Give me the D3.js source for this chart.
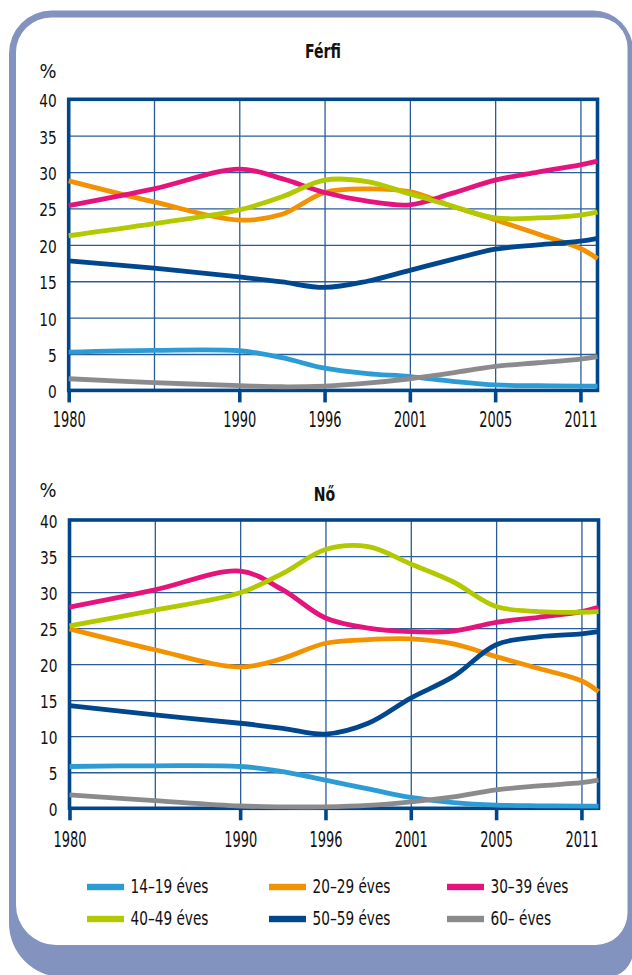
<!DOCTYPE html>
<html>
<head>
<meta charset="utf-8">
<script src="https://cdn.jsdelivr.net/npm/d3@7"></script>
<style>
  html, body { margin: 0; padding: 0; background: #fff; }
  svg { display: block; }
  .lbl { font-family: "DejaVu Sans Condensed", "DejaVu Sans", sans-serif; fill: #111; }
</style>
</head>
<body>
<div id="chart"></div>
<script>
// ---------- DATA ----------
const seriesNames = ["14–19 éves", "20–29 éves", "30–39 éves", "40–49 éves", "50–59 éves", "60– éves"];
const seriesColors = ["#2e9cd4", "#f39200", "#e4147c", "#b2c900", "#00478d", "#8b8b8d"];

// category positions on the x axis (0 = 1980 gridline, 1 = unlabeled gridline, 2 = 1990, ... 6 = 2011, 6.2 = right edge)
const gridPos = [0, 1, 2, 3, 4, 5, 6];
const xTickPos = [0, 2, 3, 4, 5, 6];
const xTickLabels = ["1980", "1990", "1996", "2001", "2005", "2011"];
const yTicks = [0, 5, 10, 15, 20, 25, 30, 35, 40];
const xEnd = 6.2;

// sample positions where values were read
const samplePos = [0, 1, 2, 2.5, 3, 3.5, 4, 4.5, 5, 5.5, 6, 6.2];

// Férfi (men), %
const men1419 = [5.25, 5.5, 5.45, 4.5, 3.05, 2.3, 1.9, 1.25, 0.75, 0.65, 0.6, 0.6];
const men2029 = [28.8, 25.9, 23.4, 24.2, 27.2, 27.7, 27.3, 25.3, 23.45, 21.5, 19.5, 18.1];
const men3039 = [25.4, 27.7, 30.4, 29.1, 27.2, 26.0, 25.5, 27.1, 28.9, 30.0, 31.0, 31.5];
const men4049 = [21.25, 22.9, 24.8, 26.6, 28.9, 28.7, 27.0, 25.3, 23.7, 23.7, 24.1, 24.5];
const men5059 = [17.8, 16.8, 15.6, 14.9, 14.15, 15.0, 16.5, 18.0, 19.4, 20.0, 20.5, 20.9];
const men60 = [1.6, 1.07, 0.66, 0.5, 0.6, 1.0, 1.6, 2.4, 3.3, 3.8, 4.3, 4.65];

// Nő (women), %
const women1419 = [5.8, 5.9, 5.8, 5.1, 3.9, 2.7, 1.5, 0.8, 0.45, 0.35, 0.3, 0.3];
const women2029 = [24.9, 22.0, 19.6, 20.8, 22.9, 23.4, 23.5, 22.8, 21.05, 19.4, 17.7, 16.2];
const women3039 = [27.9, 30.3, 32.9, 30.3, 26.4, 25.0, 24.5, 24.6, 25.8, 26.5, 27.3, 27.9];
const women4049 = [25.3, 27.5, 29.9, 32.6, 35.9, 36.3, 33.9, 31.4, 28.0, 27.3, 27.2, 27.3];
const women5059 = [14.25, 12.95, 11.8, 11.1, 10.3, 11.8, 15.3, 18.3, 22.7, 23.8, 24.2, 24.5];
const women60 = [1.85, 1.06, 0.32, 0.2, 0.2, 0.4, 0.9, 1.6, 2.55, 3.1, 3.55, 3.9];

const menSeries = [men1419, men2029, men3039, men4049, men5059, men60];
const womenSeries = [women1419, women2029, women3039, women4049, women5059, women60];

// ---------- LAYOUT ----------
const W = 632, H = 975;
const panelColor = "#8393c0";
const gridColor = "#2a5c9a";
const frameColor = "#00468b";

const svg = d3.select("#chart").append("svg").attr("width", W).attr("height", H);

function roundRect(x0, y0, x1, y1, rtl, rtr, rbr, rbl) {
  const p = d3.path();
  p.moveTo(x0 + rtl, y0);
  p.lineTo(x1 - rtr, y0);
  p.arcTo(x1, y0, x1, y0 + rtr, rtr);
  p.lineTo(x1, y1 - rbr);
  p.arcTo(x1, y1, x1 - rbr, y1, rbr);
  p.lineTo(x0 + rbl, y1);
  p.arcTo(x0, y1, x0, y1 - rbl, rbl);
  p.lineTo(x0, y0 + rtl);
  p.arcTo(x0, y0, x0 + rtl, y0, rtl);
  p.closePath();
  return p.toString();
}

// horizontal squeeze so the condensed look of the original is matched
function squeeze(textSel, targetWidth) {
  const n = textSel.node();
  const len = n.getComputedTextLength();
  return len > 0 ? targetWidth / len : 1;
}
function applyScale(sel, k) {
  sel.each(function () {
    const t = d3.select(this);
    const ax = +t.attr("x") || 0;
    t.attr("transform", `translate(${ax},0) scale(${k},1) translate(${-ax},0)`);
  });
}

svg.append("path").attr("d", roundRect(9, 10.5, 633, 977, 43, 40, 26, 54)).attr("fill", panelColor);
svg.append("path").attr("d", roundRect(16, 17.5, 627.5, 945, 35, 30, 32, 40)).attr("fill", "#fff");

function drawChart(cfg, data) {
  const x = d3.scaleLinear().domain([0, xEnd]).range([cfg.x0, cfg.x1]);
  const y = d3.scaleLinear().domain([0, 40]).range([cfg.y1, cfg.y0]);
  const g = svg.append("g");
  const w = cfg.x1 - cfg.x0, h = cfg.y1 - cfg.y0;

  // horizontal gridlines
  const yg = g.append("g").attr("transform", `translate(${cfg.x0},0)`)
    .call(d3.axisLeft(y).tickValues(yTicks.slice(1, -1)).tickSize(-w).tickFormat(""));
  yg.select(".domain").remove();
  yg.selectAll("line").attr("stroke", gridColor).attr("stroke-width", 1.3);

  // vertical gridlines
  const xg = g.append("g").attr("transform", `translate(0,${cfg.y1})`)
    .call(d3.axisBottom(x).tickValues(gridPos.slice(1)).tickSize(-h).tickFormat(""));
  xg.select(".domain").remove();
  xg.selectAll("line").attr("stroke", gridColor).attr("stroke-width", 1.3);

  // x ticks + labels
  const xa = g.append("g").attr("transform", `translate(0,${cfg.y1})`)
    .call(d3.axisBottom(x).tickValues(xTickPos).tickSize(12)
      .tickFormat((d, i) => xTickLabels[i]));
  xa.select(".domain").remove();
  xa.selectAll("line").attr("stroke", frameColor).attr("stroke-width", 3.6);
  const xt = xa.selectAll("text")
    .attr("class", "lbl").attr("y", cfg.xLabelOffset).attr("dy", 0)
    .attr("fill", "#111")
    .style("font-size", "20.5px");
  applyScale(xt, squeeze(xt.filter((d, i) => i === 0), 33));

  // y labels
  const ya = g.append("g").attr("transform", `translate(${cfg.x0},0)`)
    .call(d3.axisLeft(y).tickValues(yTicks).tickSize(0).tickPadding(12));
  ya.select(".domain").remove();
  const yt = ya.selectAll("text").attr("class", "lbl").attr("dy", 7.5)
    .attr("fill", "#111")
    .style("font-size", "18px");
  applyScale(yt, squeeze(yt.filter(d => d === 40), 17.5));

  // frame
  g.append("rect").attr("x", cfg.x0).attr("y", cfg.y0).attr("width", w).attr("height", h)
    .attr("fill", "none").attr("stroke", frameColor).attr("stroke-width", 3.6);

  // lines
  const line = d3.line().x((d, i) => x(samplePos[i])).y(d => y(d))
    .curve(d3.curveCatmullRom.alpha(0.5));
  data.forEach((s, k) => {
    g.append("path").attr("d", line(s)).attr("fill", "none")
      .attr("stroke", seriesColors[k]).attr("stroke-width", 4.8)
      .attr("stroke-linejoin", "round");
  });

  // title and unit
  const tt = g.append("text").attr("class", "lbl").attr("x", cfg.titleX).attr("y", cfg.titleY)
    .attr("text-anchor", "middle").style("font-size", "20px").style("font-weight", "bold")
    .text(cfg.title);
  applyScale(tt, cfg.titleK);
  const ut = g.append("text").attr("class", "lbl").attr("x", 56.5).attr("y", cfg.unitY)
    .attr("text-anchor", "end").style("font-size", "19px").text("%");
  applyScale(ut, squeeze(ut, 17));
  return tt;
}

const t1 = drawChart({ x0: 68.7, x1: 597.5, y0: 99.3, y1: 390.4, title: "Férfi", titleX: 323, titleY: 58.3, unitY: 78.3, xLabelOffset: 36.3, titleK: 1 }, menSeries);
const kTitle = squeeze(t1, 36);
applyScale(t1, kTitle);
drawChart({ x0: 69.5, x1: 598.5, y0: 520, y1: 808.3, title: "Nő", titleX: 324.5, titleY: 500.7, unitY: 496.7, xLabelOffset: 38.4, titleK: kTitle }, womenSeries);

// legend
const legCols = [87, 269, 447];
const legRows = [887, 919];
const leg = svg.append("g");
const legTexts = [];
seriesNames.forEach((name, i) => {
  const cx = legCols[i % 3], cy = legRows[Math.floor(i / 3)];
  leg.append("rect").attr("x", cx).attr("y", cy - 3.2).attr("width", 37).attr("height", 6.4)
    .attr("fill", seriesColors[i]);
  legTexts.push(leg.append("text").attr("class", "lbl").attr("x", cx + 43.5).attr("y", cy + 6.5)
    .style("font-size", "19.5px")
    .text(name));
});
const kLeg = squeeze(legTexts[0], 78);
legTexts.forEach(t => applyScale(t, kLeg));
</script>
</body>
</html>
